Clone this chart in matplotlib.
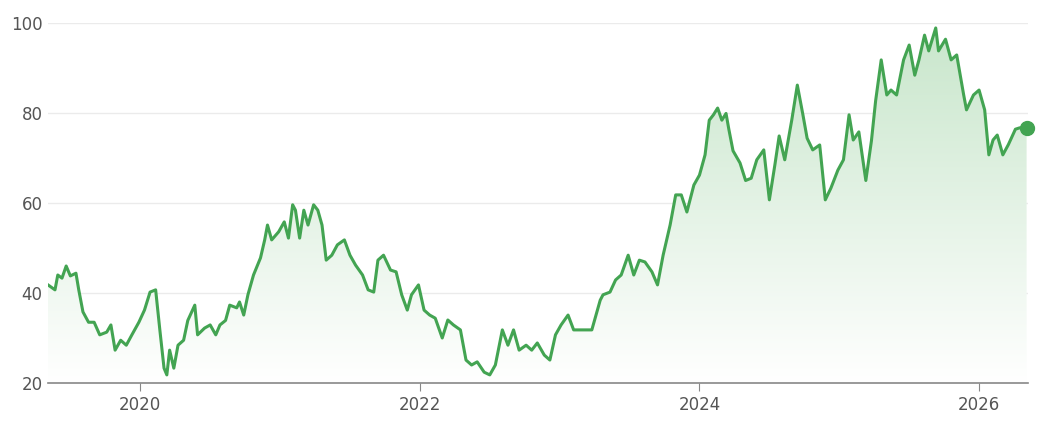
import numpy as np
import matplotlib.pyplot as plt
from matplotlib.patches import Polygon

# date as fractional year, price value
years = [2019.34, 2019.39, 2019.41, 2019.44, 2019.47, 2019.50, 2019.54, 2019.56, 2019.59, 2019.63,
         2019.67, 2019.71, 2019.76, 2019.79, 2019.82, 2019.86, 2019.90, 2019.94, 2019.99, 2020.03,
         2020.07, 2020.11, 2020.14, 2020.17, 2020.19, 2020.21, 2020.24, 2020.27, 2020.31, 2020.34,
         2020.39, 2020.41, 2020.46, 2020.50, 2020.54, 2020.57, 2020.61, 2020.64, 2020.69, 2020.71,
         2020.74, 2020.77, 2020.81, 2020.86, 2020.89, 2020.91, 2020.94, 2020.99, 2021.03, 2021.06,
         2021.09, 2021.11, 2021.14, 2021.17, 2021.20, 2021.24, 2021.27, 2021.30, 2021.33, 2021.37,
         2021.41, 2021.46, 2021.50, 2021.54, 2021.59, 2021.63, 2021.67, 2021.70, 2021.74, 2021.79,
         2021.83, 2021.87, 2021.91, 2021.94, 2021.99, 2022.03, 2022.07, 2022.11, 2022.16, 2022.20,
         2022.24, 2022.29, 2022.33, 2022.37, 2022.41, 2022.46, 2022.50, 2022.54, 2022.59, 2022.63,
         2022.67, 2022.71, 2022.76, 2022.80, 2022.84, 2022.89, 2022.93, 2022.97, 2023.01, 2023.06,
         2023.10, 2023.14, 2023.19, 2023.23, 2023.29, 2023.31, 2023.36, 2023.40, 2023.44, 2023.49,
         2023.53, 2023.57, 2023.61, 2023.66, 2023.70, 2023.74, 2023.79, 2023.83, 2023.87, 2023.91,
         2023.96, 2024.00, 2024.04, 2024.07, 2024.10, 2024.13, 2024.16, 2024.19, 2024.21, 2024.24,
         2024.29, 2024.33, 2024.37, 2024.41, 2024.46, 2024.50, 2024.54, 2024.57, 2024.61, 2024.66,
         2024.70, 2024.74, 2024.77, 2024.81, 2024.86, 2024.90, 2024.94, 2024.99, 2025.03, 2025.07,
         2025.10, 2025.14, 2025.19, 2025.23, 2025.26, 2025.30, 2025.34, 2025.37, 2025.41, 2025.46,
         2025.50, 2025.54, 2025.57, 2025.61, 2025.64, 2025.69, 2025.71, 2025.76, 2025.80, 2025.84,
         2025.89, 2025.91, 2025.96, 2026.00, 2026.04, 2026.07, 2026.10, 2026.13, 2026.17, 2026.21,
         2026.26, 2026.29, 2026.34]
values = [41.8, 40.7, 44.0, 43.3, 46.0, 43.8, 44.4, 40.7, 35.8, 33.5,
          33.5, 30.7, 31.3, 32.9, 27.3, 29.5, 28.4, 30.7, 33.5, 36.2,
          40.2, 40.7, 31.8, 23.3, 21.8, 27.3, 23.3, 28.4, 29.5, 33.9,
          37.3, 30.7, 32.2, 32.9, 30.7, 32.9, 33.9, 37.3, 36.7, 38.0,
          35.1, 39.6, 44.0, 47.8, 51.8, 55.1, 51.8, 53.6, 55.8, 52.2,
          59.6, 58.4, 52.2, 58.4, 55.1, 59.6, 58.4, 55.1, 47.3, 48.4,
          50.7, 51.8, 48.4, 46.2, 44.0, 40.7, 40.2, 47.3, 48.4, 45.1,
          44.7, 39.6, 36.2, 39.6, 41.8, 36.2, 35.1, 34.4, 30.0, 34.0,
          32.9, 31.8, 25.1, 24.0, 24.7, 22.4, 21.8, 24.0, 31.8, 28.4,
          31.8, 27.3, 28.4, 27.3, 28.9, 26.2, 25.1, 30.7, 32.9, 35.1,
          31.8, 31.8, 31.8, 31.8, 38.4, 39.6, 40.2, 42.9, 44.0, 48.4,
          44.0, 47.3, 46.9, 44.7, 41.8, 48.4, 55.1, 61.8, 61.8, 58.0,
          64.0, 66.2, 70.7, 78.4, 79.6, 81.1, 78.4, 79.9, 76.4, 71.6,
          68.9, 65.0, 65.5, 69.6, 71.8, 60.7, 68.6, 74.9, 69.6, 78.4,
          86.2, 79.6, 74.4, 71.8, 72.9, 60.7, 63.3, 67.3, 69.6, 79.6,
          74.0, 75.8, 65.0, 73.8, 82.7, 91.8, 84.0, 85.1, 84.0, 91.8,
          95.1, 88.4, 91.8, 97.3, 93.8, 98.9, 93.8, 96.4, 91.8, 92.9,
          84.0, 80.7, 84.0, 85.1, 80.7, 70.7, 74.0, 75.1, 70.7, 73.0,
          76.4, 76.7, 76.7]

green = "#43a452"

fig = plt.figure(figsize=(10.4, 4.26), dpi=100)
ax = fig.add_axes([48 / 1040, 43 / 426, 980 / 1040, 360 / 426])
ax.set_xlim(years[0], years[-1] + 0.01)
ax.set_ylim(20, 100)

# gradient fill under the line
grad = np.linspace(0, 1, 256).reshape(-1, 1)
cmap = plt.matplotlib.colors.LinearSegmentedColormap.from_list("g", ["#ffffff", "#c8e6cb"])
im = ax.imshow(grad, extent=[years[0], years[-1], 20, 100], origin="lower",
               aspect="auto", cmap=cmap, zorder=1)
poly = Polygon(list(zip(years, values)) + [(years[-1], 20), (years[0], 20)],
               closed=True, transform=ax.transData, facecolor="none", edgecolor="none")
ax.add_patch(poly)
im.set_clip_path(poly)

ax.plot(years, values, color=green, lw=2.2, zorder=3, solid_joinstyle="round")
ax.plot(years[-1], values[-1], "o", color=green, ms=10, zorder=4, clip_on=False)

ax.set_yticks([20, 40, 60, 80, 100])
ax.set_xticks([2020, 2022, 2024, 2026])
ax.set_xticklabels(["2020", "2022", "2024", "2026"])
ax.grid(axis="y", color="#ebebeb", lw=1)
ax.set_axisbelow(True)
for s in ["top", "right", "left"]:
    ax.spines[s].set_visible(False)
ax.spines["bottom"].set_color("#888888")
ax.spines["bottom"].set_linewidth(1.2)
ax.tick_params(axis="y", length=0, pad=4, labelsize=12, labelcolor="#555555")
ax.tick_params(axis="x", length=6, color="#888888", labelsize=12, labelcolor="#555555")

fig.savefig("out.png")
